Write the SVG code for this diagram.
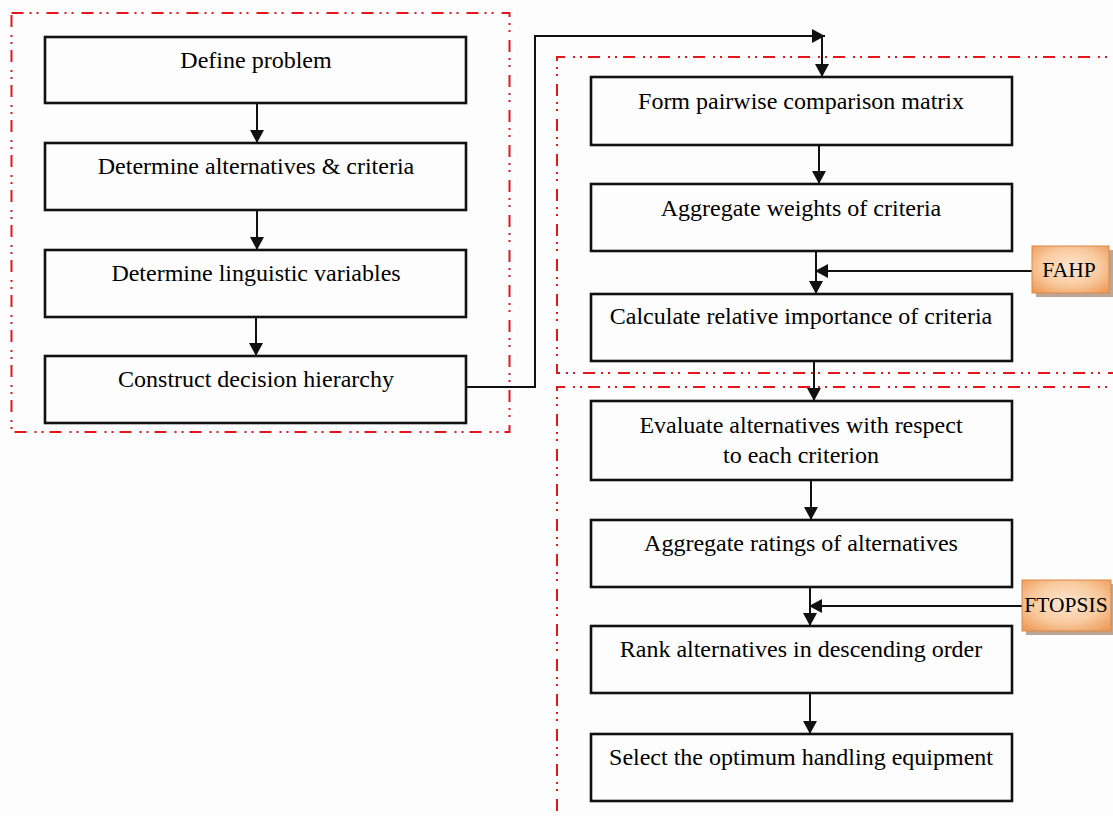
<svg xmlns="http://www.w3.org/2000/svg" width="1113" height="816" viewBox="0 0 1113 816">
<style>
.box{fill:#fdfdfd;stroke:#111;stroke-width:2.6}
.lbl{font-family:"Liberation Serif","Times New Roman",serif;font-size:24px;fill:#000;text-anchor:middle}
.tl{font-size:21.5px}
.con{fill:none;stroke:#111;stroke-width:2}
.frame{fill:none;stroke:#e3171b;stroke-width:2;stroke-dasharray:12 6 2 5 2 8}
.tag{stroke:#d98a4a;stroke-width:1;fill:url(#og)}
.shadow{fill:#a0826a;opacity:0.7}
</style>
<defs>
<marker id="ah" markerUnits="userSpaceOnUse" markerWidth="14" markerHeight="14" refX="13" refY="7" orient="auto">
<path d="M0,0 L13,7 L0,14 z" fill="#111"/>
</marker>
<radialGradient id="og" cx="50%" cy="45%" r="70%">
<stop offset="0" stop-color="#fde6d2"/>
<stop offset="0.55" stop-color="#f9cba0"/>
<stop offset="1" stop-color="#ee9a58"/>
</radialGradient>
</defs>
<rect width="1113" height="816" fill="#fdfdfd"/>
<g id="frames">
<rect class="frame" x="11.5" y="13" width="498" height="419"/>
<path class="frame" d="M1125,57 H557 V373 H1125"/>
<path class="frame" d="M1125,387 H557 V820"/>
</g>
<g id="connectors">
<path class="con" d="M257,103 V143" marker-end="url(#ah)"/>
<path class="con" d="M257,210 V250" marker-end="url(#ah)"/>
<path class="con" d="M256,317 V356" marker-end="url(#ah)"/>
<path class="con" d="M467,387 H535 V36 H825" marker-end="url(#ah)"/>
<path class="con" d="M822,36 V77" marker-end="url(#ah)"/>
<path class="con" d="M819,145 V184" marker-end="url(#ah)"/>
<path class="con" d="M816,251 V294" marker-end="url(#ah)"/>
<path class="con" d="M1032,271 H815" marker-end="url(#ah)"/>
<path class="con" d="M814,361 V401" marker-end="url(#ah)"/>
<path class="con" d="M811,480 V520" marker-end="url(#ah)"/>
<path class="con" d="M810,587 V626" marker-end="url(#ah)"/>
<path class="con" d="M1022,606 H809" marker-end="url(#ah)"/>
<path class="con" d="M810,693 V734" marker-end="url(#ah)"/>
</g>
<g id="n1"><rect class="box" x="45" y="37" width="421" height="66"/><text class="lbl" x="256" y="68">Define problem</text></g>
<g id="n2"><rect class="box" x="45" y="143" width="421" height="67"/><text class="lbl" x="256" y="174">Determine alternatives &amp; criteria</text></g>
<g id="n3"><rect class="box" x="45" y="250" width="421" height="67"/><text class="lbl" x="256" y="281">Determine linguistic variables</text></g>
<g id="n4"><rect class="box" x="45" y="356" width="421" height="67"/><text class="lbl" x="256" y="387">Construct decision hierarchy</text></g>
<g id="n5"><rect class="box" x="591" y="77" width="421" height="68"/><text class="lbl" x="801" y="109">Form pairwise comparison matrix</text></g>
<g id="n6"><rect class="box" x="591" y="184" width="421" height="67"/><text class="lbl" x="801" y="216">Aggregate weights of criteria</text></g>
<g id="n7"><rect class="box" x="591" y="294" width="421" height="67"/><text class="lbl" x="801" y="324">Calculate relative importance of criteria</text></g>
<g id="n8"><rect class="box" x="591" y="401" width="421" height="79"/><text class="lbl" x="801" y="433">Evaluate alternatives with respect</text><text class="lbl" x="801" y="463">to each criterion</text></g>
<g id="n9"><rect class="box" x="591" y="520" width="421" height="67"/><text class="lbl" x="801" y="551">Aggregate ratings of alternatives</text></g>
<g id="n10"><rect class="box" x="591" y="626" width="421" height="67"/><text class="lbl" x="801" y="657">Rank alternatives in descending order</text></g>
<g id="n11"><rect class="box" x="591" y="734" width="421" height="67"/><text class="lbl" x="801" y="765">Select the optimum handling equipment</text></g>
<g id="fahp"><rect class="shadow" x="1036" y="250" width="77" height="47"/><rect class="tag" x="1032" y="246" width="77" height="47"/><text class="lbl tl" x="1069" y="277">FAHP</text></g>
<g id="ftopsis"><rect class="shadow" x="1026" y="584" width="90" height="51"/><rect class="tag" x="1022" y="580" width="89" height="51"/><text class="lbl tl" x="1066" y="612">FTOPSIS</text></g>
</svg>
